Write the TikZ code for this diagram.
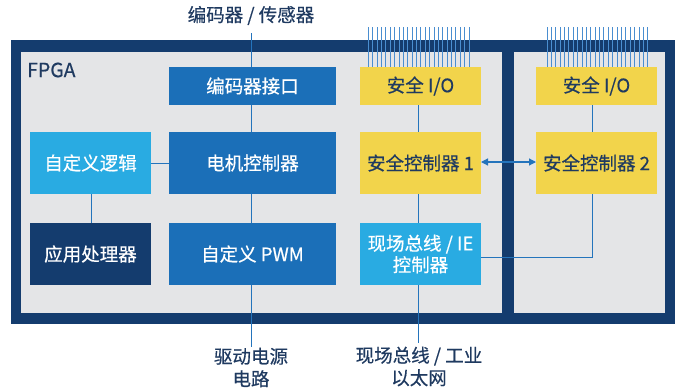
\documentclass[tikz,border=0pt]{standalone}
\usepackage{fontspec}
\setmainfont{Noto Sans CJK SC}[FakeBold=0.5]
\usetikzlibrary{arrows.meta}
\definecolor{navy}{HTML}{143C6E}
\definecolor{panel}{HTML}{E4E5E7}
\definecolor{midblue}{HTML}{1B6FB8}
\definecolor{ltblue}{HTML}{29ABE2}
\definecolor{ylw}{HTML}{F2D44B}
\definecolor{txtnavy}{HTML}{1F3A60}
\definecolor{wire}{HTML}{2474BC}
\definecolor{pin}{HTML}{4A8ED0}
\tikzset{
  box/.style={rectangle, inner sep=0pt, outer sep=0pt, align=center, font=\fontsize{18.5}{21.5}\selectfont},
  wide/.style={box, minimum width=167pt},
  narrow/.style={box, minimum width=121pt},
  tall/.style={minimum height=62pt},
  short/.style={minimum height=38pt},
  bluebox/.style={fill=midblue, text=white},
  lightbox/.style={fill=ltblue, text=white},
  darkbox/.style={fill=navy, text=white},
  yellowbox/.style={fill=ylw, text=txtnavy},
  outlabel/.style={inner sep=0pt, align=center, text=txtnavy, font=\fontsize{18.5}{22.5}\selectfont},
  wireline/.style={draw=wire, line width=1pt},
  pinline/.style={draw=pin, line width=0.9pt}
}
\begin{document}
\begin{tikzpicture}[x=1pt,y=-1pt]
\useasboundingbox (0,0) rectangle (678,388);
% frame and panels
\fill[navy] (11,40) rectangle (675,324);
\fill[panel] (21,52) rectangle (502,313);
\fill[panel] (514,52) rectangle (665,313);
\node[anchor=west, inner sep=0pt, text=txtnavy, font=\fontsize{19.5}{22}\selectfont] (fpga) at (27,70) {FPGA};

% boxes
\node[wide, short, bluebox] (encif) at (252.5,86) {编码器接口};
\node[narrow, tall, lightbox] (logic) at (90.5,163) {自定义逻辑};
\node[wide, tall, bluebox] (motor) at (252.5,163) {电机控制器};
\node[narrow, tall, darkbox] (app) at (90.5,254) {应用处理器};
\node[wide, tall, bluebox] (pwm) at (252.5,254) {自定义 PWM};
\node[narrow, short, yellowbox] (sio1) at (420.5,86) {安全 I/O};
\node[narrow, tall, yellowbox] (sc1) at (420.5,163) {安全控制器 1};
\node[narrow, tall, lightbox] (fb) at (420.5,254) {现场总线 / IE\\控制器};
\node[narrow, short, yellowbox] (sio2) at (596.5,86) {安全 I/O};
\node[narrow, tall, yellowbox] (sc2) at (596.5,163) {安全控制器 2};

% outside labels
\node[outlabel] (enclab) at (251,15.5) {编码器 / 传感器};
\node[outlabel] (drvlab) at (251,367.5) {驱动电源\\电路};
\node[outlabel] (fblab) at (419,366.5) {现场总线 / 工业\\以太网};

\coordinate (enctop) at (251,33);
\coordinate (drvend) at (251,347);
\coordinate (fbend) at (418,343);
\coordinate (xa) at (251,0);
\coordinate (xb) at (418,0);
\coordinate (xc) at (592,0);
\coordinate (xd) at (91,0);
\coordinate (fbjoin) at (481,257);

% connectors
\draw[wireline] (enctop) -- (encif.north -| xa);
\draw[wireline] (encif.south -| xa) -- (motor.north -| xa);
\draw[wireline] (motor.south -| xa) -- (pwm.north -| xa);
\draw[wireline] (pwm.south -| xa) -- (drvend);
\draw[wireline] (logic.east) -- (motor.west);
\draw[wireline] (logic.south -| xd) -- (app.north -| xd);
\draw[wireline] (sio1.south -| xb) -- (sc1.north -| xb);
\draw[wireline] (sc1.south -| xb) -- (fb.north -| xb);
\draw[wireline] (fb.south -| xb) -- (fbend);
\draw[wireline] (sio2.south -| xc) -- (sc2.north -| xc);
\draw[wireline] (sc2.south -| xc) |- (fbjoin);
\draw[wireline, line width=1.2pt, {Triangle[length=7pt,width=7pt]}-{Triangle[length=7pt,width=7pt]}] ([yshift=1pt]sc1.east) -- ([yshift=1pt]sc2.west);

% pins
\foreach \i in {0,...,23} {
  \draw[pinline] (368.3+4.38*\i,27) -- (368.3+4.38*\i,67);
  \draw[pinline] (547+4.38*\i,27) -- (547+4.38*\i,67);
}
\end{tikzpicture}
\end{document}
